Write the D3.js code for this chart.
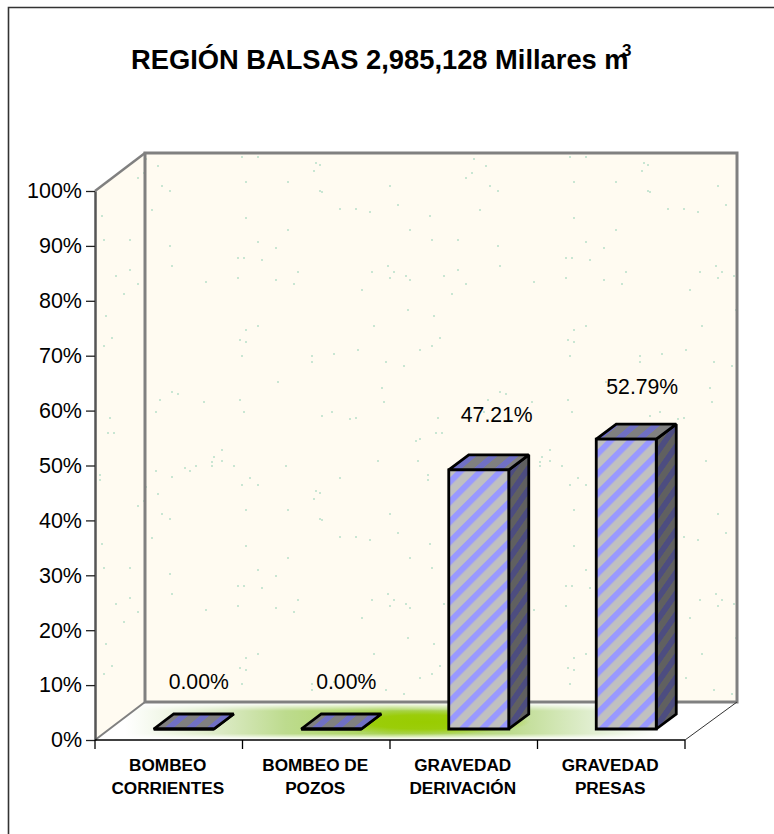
<!DOCTYPE html>
<html>
<head>
<meta charset="utf-8">
<script src="https://cdn.jsdelivr.net/npm/d3@7"></script>
<style>
body { margin: 0; background: #fff; }
text { font-family: "Liberation Sans", Arial, sans-serif; fill: #000; }
</style>
</head>
<body>
<div id="chart"></div>
<script>
var categories = [["BOMBEO", "CORRIENTES"], ["BOMBEO DE", "POZOS"], ["GRAVEDAD", "DERIVACIÓN"], ["GRAVEDAD", "PRESAS"]];
var shares = [0, 0, 47.21, 52.79];
var shareLabels = ["0.00%", "0.00%", "47.21%", "52.79%"];
var yTicks = [0, 10, 20, 30, 40, 50, 60, 70, 80, 90, 100];
var titleText = "REGIÓN BALSAS 2,985,128 Millares m";

// wall texture, one 328px tile
var speckles = [[97,4],[113,4],[13,13],[17,33],[25,38],[101,29],[143,29],[171,10],[175,12],[169,18],[175,38],[177,39],
    [245,33],[253,52],[195,56],[211,56],[225,59],[7,57],[101,65],[143,77],[285,63],[265,77],[287,87],[25,93],[113,89],
    [131,95],[93,105],[99,105],[117,107],[27,113],[153,119],[243,113],[227,119],[249,119],[245,125],[261,123],[265,127],
    [61,129],[93,125],[131,127],[149,131],[217,137],[299,123],[263,157],[289,163],[229,173],[113,173],[101,177],[95,187],
    [101,189],[295,185],[287,193],[275,197],[213,197],[189,201],[97,203],[167,203],[167,209],[241,209],[259,213],[133,229],
    [237,235],[27,239],[33,241],[15,247],[59,249],[95,247],[239,249],[11,259],[99,259],[177,263],[187,259],[205,266],
    [211,265],[293,265],[1,6],[327,20],[321,25],[313,87],[313,117],[321,131],[307,141],[271,288],[275,286],[291,280],
    [297,280],[273,308],[283,322],[283,327],[40,315],[45,318],[51,313],[67,309],[67,313],[69,304],[77,297],[77,308],
    [89,313],[11,318],[27,324],[141,313],[233,308],[195,325],[105,325]];

var width = 774, height = 834;
var plot = {left: 95, right: 685, top: 191, bottom: 740};
var depth = {x: 50, y: 38};      // wall depth
var barGap = {x: 15, y: 11};     // bar sits this far back on the floor
var barDepth = {x: 20, y: 15};
var barWidth = 60;
var labelDx = [15, 15, 18, 16];
var labelDy = [40, 40, 48, 45];

var svg = d3.select("#chart").append("svg")
    .attr("width", width)
    .attr("height", height)
    .style("display", "block");

var x = d3.scaleBand()
    .domain(d3.range(categories.length))
    .range([plot.left, plot.right]);

var y = d3.scaleLinear()
    .domain([0, 100])
    .range([plot.bottom, plot.top]);

var defs = svg.append("defs");

var tile = defs.append("pattern")
    .attr("id", "wallTexture")
    .attr("patternUnits", "userSpaceOnUse")
    .attr("width", 328)
    .attr("height", 328)
    .attr("patternTransform", "translate(145,153)");
tile.append("rect").attr("width", 328).attr("height", 328).attr("fill", "#fffbf1");
tile.selectAll("rect.speck")
    .data(speckles)
    .enter()
    .append("rect")
    .attr("class", "speck")
    .attr("x", function(d) { return d[0] - 1; })
    .attr("y", function(d) { return d[1] - 1; })
    .attr("width", 2)
    .attr("height", 2)
    .attr("fill", "#c9e6d3");

function addHatch(id, base, stripe, size, band, transform, vertical) {
    var p = defs.append("pattern")
        .attr("id", id)
        .attr("patternUnits", "userSpaceOnUse")
        .attr("width", size)
        .attr("height", size)
        .attr("patternTransform", transform);
    p.append("rect").attr("width", size).attr("height", size).attr("fill", base);
    p.append("rect")
        .attr("width", vertical ? size : band)
        .attr("height", vertical ? band : size)
        .attr("fill", stripe);
}
addHatch("hatchFront", "#c0c0c0", "#9999ff", 14.1, 6, "translate(449,0) rotate(45)", false);
addHatch("hatchSide", "#606060", "#4d4d80", 21, 10, "skewY(-55)", true);
addHatch("hatchTop", "#808080", "#7070c4", 21, 9, "translate(3,0) skewX(-50)", false);

// floor glow: a wide pale band with a stronger patch in the middle
var glowBand = defs.append("linearGradient")
    .attr("id", "glowBand")
    .attr("gradientUnits", "userSpaceOnUse")
    .attr("x1", 125).attr("x2", 660).attr("y1", 0).attr("y2", 0);
[[0, "#ffffff"], [0.18, "#dbeac4"], [0.3, "#bddb8e"], [0.5, "#a9d455"], [0.72, "#bddb8e"], [0.87, "#e0eecf"], [1, "#ffffff"]].forEach(function(s) {
    glowBand.append("stop").attr("offset", s[0]).attr("stop-color", s[1]);
});
var glowFade = defs.append("linearGradient")
    .attr("id", "glowFade")
    .attr("gradientUnits", "userSpaceOnUse")
    .attr("x1", 0).attr("x2", 0).attr("y1", 703).attr("y2", 739);
[[0, "#000"], [0.22, "#fff"], [0.85, "#fff"], [1, "#000"]].forEach(function(s) {
    glowFade.append("stop").attr("offset", s[0]).attr("stop-color", s[1]);
});
defs.append("mask")
    .attr("id", "glowMask")
    .attr("maskUnits", "userSpaceOnUse")
    .attr("x", 0).attr("y", 0).attr("width", width).attr("height", height)
    .append("rect")
    .attr("width", width).attr("height", height)
    .attr("fill", "url(#glowFade)");
var glowCore = defs.append("radialGradient").attr("id", "glowCore");
[[0, 1], [0.55, 0.9], [1, 0]].forEach(function(s) {
    glowCore.append("stop")
        .attr("offset", s[0])
        .attr("stop-color", "#99cc00")
        .attr("stop-opacity", s[1]);
});

function poly(points) {
    return "M" + points.map(function(p) { return p[0] + "," + p[1]; }).join("L") + "Z";
}

// frame, only top and left show in the crop
svg.append("path")
    .attr("d", "M8.5," + height + "V7.5H" + width)
    .attr("fill", "none")
    .attr("stroke", "#333")
    .attr("stroke-width", 1.6);

// Walls and floor
var backLeft = plot.left + depth.x, backRight = plot.right + depth.x + 2;
var backTop = plot.top - depth.y, backBottom = plot.bottom - depth.y;
var floorPoints = [[plot.left, plot.bottom], [backLeft, backBottom], [backRight, backBottom], [plot.right, plot.bottom]];

svg.append("path")
    .attr("d", poly([[plot.left, plot.top], [backLeft, backTop], [backLeft, backBottom], [plot.left, plot.bottom]]))
    .attr("fill", "url(#wallTexture)");

svg.append("path")
    .attr("d", poly(floorPoints))
    .attr("fill", "url(#glowBand)")
    .attr("mask", "url(#glowMask)");

svg.append("ellipse")
    .attr("cx", 425)
    .attr("cy", 722)
    .attr("rx", 105)
    .attr("ry", 13)
    .attr("fill", "url(#glowCore)");

svg.append("rect")
    .attr("x", backLeft)
    .attr("y", backTop)
    .attr("width", backRight - backLeft)
    .attr("height", backBottom - backTop)
    .attr("fill", "url(#wallTexture)")
    .attr("stroke", "#808080")
    .attr("stroke-width", 3);

svg.append("path")
    .attr("d", "M" + plot.left + "," + plot.top + "L" + backLeft + "," + backTop)
    .attr("stroke", "#808080")
    .attr("stroke-width", 2.5);
svg.append("path")
    .attr("d", "M" + plot.left + "," + plot.bottom + "L" + backLeft + "," + backBottom)
    .attr("stroke", "#808080")
    .attr("stroke-width", 2);
svg.append("path")
    .attr("d", "M" + plot.right + "," + plot.bottom + "L" + backRight + "," + backBottom)
    .attr("stroke", "#333")
    .attr("stroke-width", 1);

// Y axis
var yAxis = svg.append("g")
    .attr("transform", "translate(" + plot.left + ",0)")
    .call(d3.axisLeft(y).tickValues(yTicks).tickSize(9).tickSizeOuter(0).tickPadding(4)
        .tickFormat(function(d) { return d + "%"; }));
yAxis.select(".domain").attr("stroke", "#555").attr("stroke-width", 2.5);
yAxis.selectAll(".tick line").attr("stroke", "#222").attr("stroke-width", 1.3);
yAxis.selectAll(".tick text")
    .style("font-family", "'Liberation Sans', Arial, sans-serif")
    .style("font-size", "21.5px")
    .attr("fill", "#000");

// X axis
svg.append("path")
    .attr("d", "M" + plot.left + "," + plot.bottom + "H" + plot.right)
    .attr("stroke", "#000")
    .attr("stroke-width", 1.3);
svg.selectAll(".xTick")
    .data(d3.range(categories.length + 1))
    .enter()
    .append("path")
    .attr("class", "xTick")
    .attr("d", function(i) {
        var px = i < categories.length ? x(i) : plot.right;
        return "M" + px + "," + plot.bottom + "V" + (plot.bottom + 9);
    })
    .attr("stroke", "#000")
    .attr("stroke-width", 1.3);

var catLabels = svg.selectAll(".catLabel")
    .data(categories)
    .enter()
    .append("text")
    .attr("class", "catLabel")
    .attr("text-anchor", "middle")
    .attr("font-weight", "bold")
    .attr("font-size", "17.2px");
catLabels.selectAll("tspan")
    .data(function(d, i) { return d.map(function(line) { return {line: line, i: i}; }); })
    .enter()
    .append("tspan")
    .attr("x", function(d) { return x(d.i) + x.bandwidth() / 2 - 1; })
    .attr("y", function(d, k) { return 771 + k * 22.5; })
    .text(function(d) { return d.line; });

// Bars
function barLeft(i) {
    return x(i) + (x.bandwidth() - barWidth) / 2 + barGap.x;
}
var bars = svg.selectAll(".bar")
    .data(shares)
    .enter()
    .append("g")
    .attr("class", "bar")
    .attr("stroke", "#000")
    .attr("stroke-width", 2.8)
    .attr("stroke-linejoin", "miter")
    .attr("stroke-miterlimit", 2);

bars.append("path")
    .attr("fill", "url(#hatchSide)")
    .attr("d", function(d, i) {
        var r = barLeft(i) + barWidth, t = y(d) - barGap.y, b = y(0) - barGap.y;
        return poly([[r, t], [r + barDepth.x, t - barDepth.y], [r + barDepth.x, b - barDepth.y], [r, b]]);
    });
bars.append("path")
    .attr("fill", "url(#hatchTop)")
    .attr("d", function(d, i) {
        var l = barLeft(i), r = l + barWidth, t = y(d) - barGap.y;
        return poly([[l, t], [l + barDepth.x, t - barDepth.y], [r + barDepth.x, t - barDepth.y], [r, t]]);
    });
bars.append("path")
    .attr("fill", "url(#hatchFront)")
    .attr("d", function(d, i) {
        var l = barLeft(i), r = l + barWidth, t = y(d) - barGap.y, b = y(0) - barGap.y;
        return poly([[l, t], [r, t], [r, b], [l, b]]);
    });

// Value labels
svg.selectAll(".valueLabel")
    .data(shareLabels)
    .enter()
    .append("text")
    .attr("class", "valueLabel")
    .attr("text-anchor", "middle")
    .attr("font-size", "21.2px")
    .attr("x", function(d, i) { return barLeft(i) + barWidth / 2 + labelDx[i]; })
    .attr("y", function(d, i) { return y(shares[i]) - barGap.y - labelDy[i]; })
    .text(function(d) { return d; });

// Title
svg.append("text")
    .attr("x", 131)
    .attr("y", 69)
    .attr("font-size", "27.3px")
    .attr("font-weight", "bold")
    .text(titleText);
svg.append("text")
    .attr("x", 622)
    .attr("y", 56)
    .attr("font-size", "17px")
    .attr("font-weight", "bold")
    .text("3");
</script>
</body>
</html>
